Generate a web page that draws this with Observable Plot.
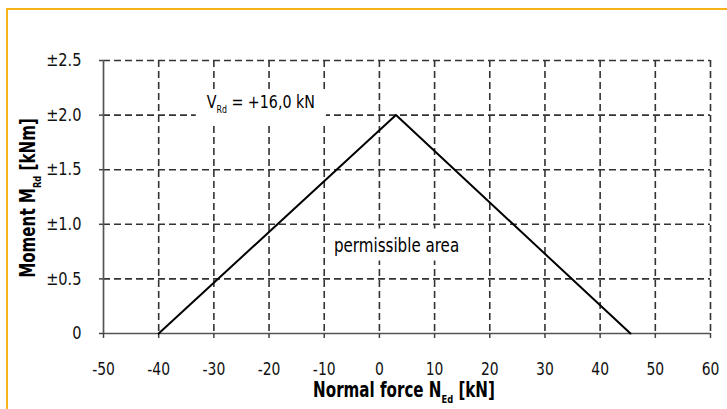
<!DOCTYPE html>
<html><head><meta charset="utf-8">
<script src="https://cdn.jsdelivr.net/npm/d3@7"></script>
<script src="https://cdn.jsdelivr.net/npm/@observablehq/plot@0.6"></script>
<style>
body{margin:0;background:#fff;}
#wrap{position:relative;width:727px;height:409px;overflow:hidden;background:#fff;}
#frame{position:absolute;left:6px;top:8px;width:800px;height:500px;border-top:2.5px solid #F6B217;border-left:2.5px solid #F6B217;}
#wrap svg{position:absolute;left:0;top:0;}
</style></head><body><div id="wrap"><div id="frame"></div></div>
<script>
const FONT = '"DejaVu Sans Condensed","Liberation Sans Narrow","Roboto Condensed","Open Sans",sans-serif';

// Data
const normalForce = [-40, 3, 45.5];   // kN
const moment = [0, 2.0, 0];           // kNm
const xTicks = [-50, -40, -30, -20, -10, 0, 10, 20, 30, 40, 50, 60];
const xTickLabels = ["-50", "-40", "-30", "-20", "-10", "0", "10", "20", "30", "40", "50", "60"];
const yTicks = [0, 0.5, 1.0, 1.5, 2.0, 2.5];
const yTickLabels = ["0", "±0.5", "±1.0", "±1.5", "±2.0", "±2.5"];
const xGrid = [-40, -30, -20, -10, 0, 10, 20, 30, 40, 50, 60];
const yGrid = [0.5, 1.0, 1.5, 2.0, 2.5];
const vrdLabel = {x: -31.2, y: 2.06, main: "V", sub: "Rd", rest: " = +16,0 kN"};
const areaLabel = {x: 3.2, y: 0.81, text: "permissible area"};
const xTitle = ["Normal force N", "Ed", " [kN]"];
const yTitle = ["Moment M", "Rd", " [kNm]"];

const points = normalForce.map((n, i) => ({n, m: moment[i]}));

const chart = Plot.plot({
  width: 727,
  height: 409,
  marginLeft: 103,
  marginRight: 17,
  marginTop: 60,
  marginBottom: 76,
  style: {fontFamily: FONT, fontSize: "18px", color: "#111", background: "transparent"},
  x: {domain: [-50, 60]},
  y: {domain: [0, 2.5]},
  marks: [
    Plot.gridX(xGrid, {stroke: "#333", strokeOpacity: 1, strokeWidth: 1.6, strokeDasharray: "7,4"}),
    Plot.gridY(yGrid, {stroke: "#333", strokeOpacity: 1, strokeWidth: 1.6, strokeDasharray: "7,4"}),
    Plot.ruleX([-50], {stroke: "#555", strokeWidth: 1.7}),
    Plot.ruleY([0], {stroke: "#555", strokeWidth: 1.7}),
    Plot.axisX({ticks: xTicks, tickFormat: (d) => xTickLabels[xTicks.indexOf(d)], tickSize: 5, tickPadding: 24, stroke: "#444", strokeWidth: 1.5, label: null, fontSize: 18}),
    Plot.axisY({ticks: yTicks, tickFormat: (d) => yTickLabels[yTicks.indexOf(d)], tickSize: 4, tickPadding: 18, stroke: "#444", strokeWidth: 1.5, label: null, fontSize: 18}),
    Plot.line(points, {x: "n", y: "m", stroke: "#000", strokeWidth: 2})
  ]
});
document.getElementById("wrap").appendChild(chart);

// condense tick labels horizontally (reference font is narrow)
function condense(sel, s) {
  chart.querySelectorAll(sel).forEach((t) => {
    const tr = t.getAttribute("transform") || "";
    t.setAttribute("transform", tr + ` scale(${s},1)`);
  });
}
condense('g[aria-label="x-axis tick label"] text', 0.86);
condense('g[aria-label="y-axis tick label"] text', 0.9);

const xs = chart.scale("x"), ys = chart.scale("y");
const svg = d3.select(chart);
const ann = svg.append("g").attr("font-family", FONT);

function label(px, py, s, size, anchor, parts, weight) {
  const g = ann.append("g").attr("transform", `translate(${px},${py}) scale(${s},1)`);
  const t = g.append("text").attr("x", 0).attr("y", 0)
    .attr("text-anchor", anchor).attr("font-size", size).attr("fill", "#000")
    .attr("font-weight", weight || "normal");
  t.append("tspan").text(parts[0]);
  if (parts.length > 1) {
    t.append("tspan").attr("font-size", size * 0.55).attr("dy", size * 0.3).text(parts[1]);
    t.append("tspan").attr("dy", -size * 0.3).text(parts[2]);
  }
  return {g, t};
}
function boxBehind(o, s, padX, top, bottom) {
  const b = o.t.node().getBBox();
  o.g.insert("rect", "text")
    .attr("x", b.x - padX / s).attr("y", -top)
    .attr("width", b.width + 2 * padX / s).attr("height", top + bottom)
    .attr("fill", "#fff");
}

// V_Rd label
const l1 = label(xs.apply(vrdLabel.x), ys.apply(vrdLabel.y), 0.88, 18, "start",
  [vrdLabel.main, vrdLabel.sub, vrdLabel.rest]);
boxBehind(l1, 0.88, 11, 16, 15);

// permissible area
const l2 = label(xs.apply(areaLabel.x), ys.apply(areaLabel.y) + 7, 0.84, 20, "middle", [areaLabel.text]);
boxBehind(l2, 0.84, 7, 23, 9);

// Axis titles
label(404, 397, 0.82, 20.5, "middle", xTitle, "bold");
const yl = label(0, 0, 1, 20.5, "middle", yTitle, "bold");
yl.g.attr("transform", "translate(35,198) rotate(-90) scale(0.82,1)");
</script>
</body></html>
